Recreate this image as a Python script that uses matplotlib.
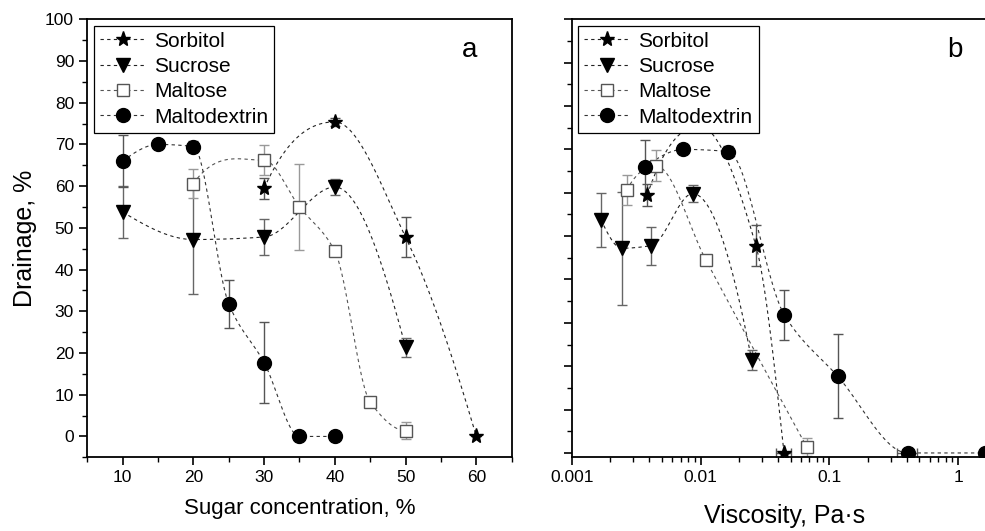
import numpy as np
import matplotlib
matplotlib.use('Agg')
import matplotlib.pyplot as plt
from matplotlib.ticker import MultipleLocator, LogLocator, NullFormatter
from matplotlib.lines import Line2D

plt.rcParams['font.family'] = ['Liberation Sans', 'DejaVu Sans']

# drainage (%) vs sugar concentration (%)
conc_sorbitol = [30, 40, 50, 60]
drain_sorbitol = [59.5, 75.4, 47.8, 0.0]
err_sorbitol = [2.5, 1.0, 4.8, 0.0]

conc_sucrose = [10, 20, 30, 40, 50]
drain_sucrose = [53.8, 47.2, 47.8, 59.8, 21.4]
err_sucrose = [6.2, 13.0, 4.4, 2.0, 2.3]

conc_maltose = [20, 30, 35, 40, 45, 50]
drain_maltose = [60.6, 66.2, 55.0, 44.4, 8.2, 1.4]
err_maltose = [3.4, 3.6, 10.4, 1.0, 1.0, 2.0]

conc_maltodextrin = [10, 15, 20, 25, 30, 35, 40]
drain_maltodextrin = [66.0, 70.0, 69.5, 31.8, 17.7, 0.0, 0.0]
err_maltodextrin = [6.2, 0.8, 1.3, 5.8, 9.7, 0.0, 0.0]

# viscosity (Pa*s) for the same samples, nan = not measured
visc_sorbitol = [0.00386, 0.0098, 0.0269, 0.0445]
visc_sucrose = [0.00168, 0.00244, 0.00413, 0.00869, 0.02496]
visc_maltose = [0.00267, 0.00452, np.nan, 0.01104, np.nan, 0.0668]
visc_maltodextrin = [0.00371, 0.00735, 0.01644, 0.0448, 0.1161, 0.406, 1.62]
xerr_sorbitol = [0, 0, 0, 0.0057]
xerr_maltodextrin = [0, 0, 0, 0, 0, 0.07, 0]


def smooth(x, y, n=300):
    # monotone cubic (pchip) curve through the points
    x = np.asarray(x, float)
    y = np.asarray(y, float)
    h = np.diff(x)
    d = np.diff(y) / h
    m = len(x)
    s = np.zeros(m)
    for i in range(1, m - 1):
        if d[i - 1] * d[i] > 0:
            w1 = 2 * h[i] + h[i - 1]
            w2 = h[i] + 2 * h[i - 1]
            s[i] = (w1 + w2) / (w1 / d[i - 1] + w2 / d[i])
    s[0] = d[0]
    s[-1] = d[-1]
    if m > 2:
        s[0] = ((2 * h[0] + h[1]) * d[0] - h[0] * d[1]) / (h[0] + h[1])
        if np.sign(s[0]) != np.sign(d[0]):
            s[0] = 0
        s[-1] = ((2 * h[-1] + h[-2]) * d[-1] - h[-1] * d[-2]) / (h[-1] + h[-2])
        if np.sign(s[-1]) != np.sign(d[-1]):
            s[-1] = 0
    xs = np.linspace(x[0], x[-1], n)
    k = np.clip(np.searchsorted(x, xs) - 1, 0, m - 2)
    t = (xs - x[k]) / h[k]
    h00 = 2 * t**3 - 3 * t**2 + 1
    h10 = t**3 - 2 * t**2 + t
    h01 = -2 * t**3 + 3 * t**2
    h11 = t**3 - t**2
    ys = h00 * y[k] + h10 * h[k] * s[k] + h01 * y[k + 1] + h11 * h[k] * s[k + 1]
    return xs, ys


series = [
    ('Sorbitol', conc_sorbitol, visc_sorbitol, drain_sorbitol, err_sorbitol, xerr_sorbitol,
     dict(marker='*', ms=11, mfc='black', mec='black'), '#555555', '#222222'),
    ('Sucrose', conc_sucrose, visc_sucrose, drain_sucrose, err_sucrose, [0] * 5,
     dict(marker='v', ms=10, mfc='black', mec='black'), '#666666', '#222222'),
    ('Maltose', conc_maltose, visc_maltose, drain_maltose, err_maltose, [0] * 6,
     dict(marker='s', ms=8, mfc='white', mec='#555555', mew=1.0), '#999999', '#555555'),
    ('Maltodextrin', conc_maltodextrin, visc_maltodextrin, drain_maltodextrin, err_maltodextrin,
     xerr_maltodextrin, dict(marker='o', ms=10, mfc='black', mec='black'), '#555555', '#333333'),
]

fig = plt.figure(figsize=(9.85, 5.31), dpi=100)
ax1 = fig.add_axes([0.0886, 0.1388, 0.4309, 0.8249])
ax2 = fig.add_axes([0.5804, 0.1388, 0.4317, 0.8249])

dash = (0, (3, 3))
for name, conc, visc, drain, err, xerr, mk, ecol, lcol in series:
    # left: vs concentration
    xs, ys = smooth(conc, drain)
    ax1.plot(xs, ys, ls=dash, lw=0.8, color=lcol, zorder=1)
    ax1.errorbar(conc, drain, yerr=err, fmt='none', ecolor=ecol, elinewidth=1.0,
                 capsize=3.5, capthick=1.0, zorder=2)
    ax1.plot(conc, drain, ls='none', zorder=3, **mk)

    # right: vs viscosity
    v = np.asarray(visc, float)
    ok = ~np.isnan(v)
    vv = v[ok]
    dd = np.asarray(drain)[ok]
    ee = np.asarray(err)[ok]
    xe = np.asarray(xerr, float)[ok]
    lx, ly = smooth(np.log10(vv), dd)
    ax2.plot(10**lx, ly, ls=dash, lw=0.8, color=lcol, zorder=1)
    ax2.errorbar(vv, dd, yerr=ee, xerr=xe, fmt='none', ecolor=ecol, elinewidth=1.0,
                 capsize=3.5, capthick=1.0, zorder=2)
    ax2.plot(vv, dd, ls='none', zorder=3, **mk)

# legend handles with dashed line
handles = [Line2D([], [], ls=dash, lw=0.8, color=s[8], **s[6]) for s in series]
labels = [s[0] for s in series]
for ax in (ax1, ax2):
    leg = ax.legend(handles, labels, loc='upper left', fontsize=15, frameon=True,
                    fancybox=False, framealpha=1, edgecolor='black', handlelength=2.2,
                    borderaxespad=0.3, borderpad=0.3, labelspacing=0.3, handletextpad=0.4)
    leg.get_frame().set_linewidth(0.9)
    leg.set_zorder(10)

ax1.set_xlim(5, 65)
ax1.set_ylim(-5, 100)
ax1.xaxis.set_major_locator(MultipleLocator(10))
ax1.xaxis.set_minor_locator(MultipleLocator(5))
ax1.yaxis.set_major_locator(MultipleLocator(10))
ax1.yaxis.set_minor_locator(MultipleLocator(5))
ax1.set_xlabel('Sugar concentration, %', fontsize=16, labelpad=9)
ax1.set_ylabel('Drainage, %', fontsize=18, labelpad=6)
ax1.text(0.9, 0.93, 'a', transform=ax1.transAxes, fontsize=20, ha='center', va='center')

ax2.set_xscale('log')
ax2.set_xlim(0.001, 2)
ax2.set_ylim(-1, 100)
ax2.xaxis.set_minor_locator(LogLocator(base=10, subs=np.arange(2, 10)))
ax2.xaxis.set_minor_formatter(NullFormatter())
ax2.set_xticks([0.001, 0.01, 0.1, 1])
ax2.set_xticklabels(['0.001', '0.01', '0.1', '1'])
ax2.yaxis.set_major_locator(MultipleLocator(10))
ax2.yaxis.set_minor_locator(MultipleLocator(5))
ax2.set_yticklabels([])
ax2.set_xlabel('Viscosity, Pa\u00b7s', fontsize=18, labelpad=13)
ax2.text(0.9, 0.93, 'b', transform=ax2.transAxes, fontsize=20, ha='center', va='center')

for ax in (ax1, ax2):
    for sp in ax.spines.values():
        sp.set_linewidth(1.3)
    ax.tick_params(which='major', direction='out', length=6, width=1.2, labelsize=12.5,
                   top=False, right=False)
    ax.tick_params(which='minor', direction='out', length=3.5, width=1.0,
                   top=False, right=False)

fig.savefig('out.png', dpi=100)
